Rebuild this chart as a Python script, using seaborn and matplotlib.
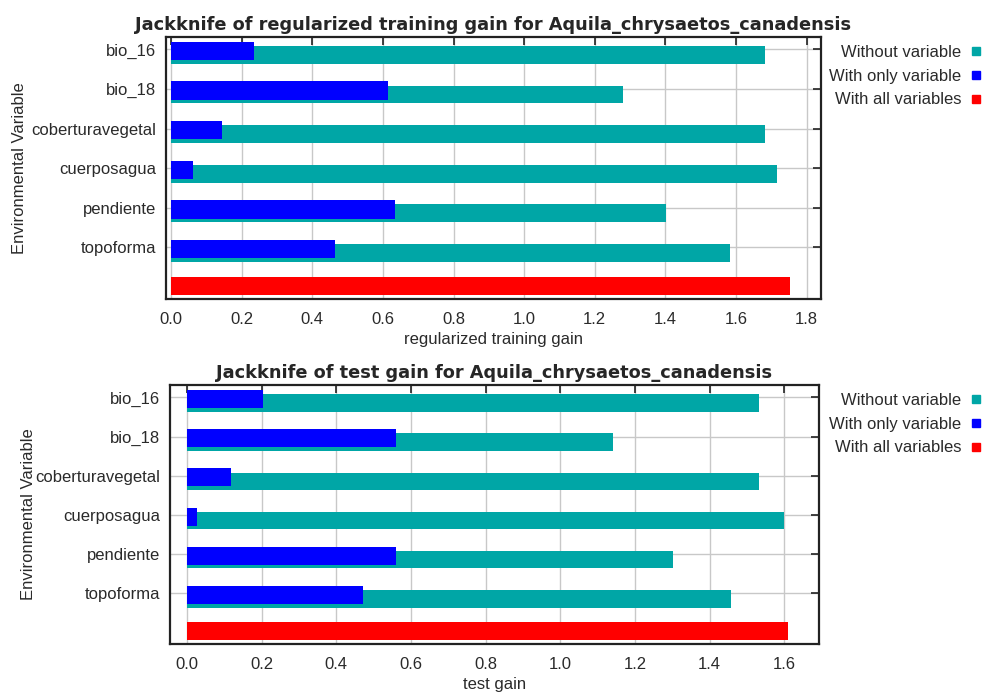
import numpy as np
import pandas as pd
import matplotlib
matplotlib.use("Agg")
import matplotlib.pyplot as plt
from matplotlib.lines import Line2D
from matplotlib.markers import TICKLEFT
import seaborn as sns

# data
variables = ["bio_16", "bio_18", "coberturavegetal", "cuerposagua", "pendiente", "topoforma"]
all_label = "With all variables"

train_without = [1.681, 1.279, 1.681, 1.717, 1.402, 1.584]
train_only = [0.236, 0.614, 0.144, 0.063, 0.635, 0.465]
train_all = 1.754

test_without = [1.531, 1.140, 1.531, 1.600, 1.302, 1.456]
test_only = [0.203, 0.560, 0.119, 0.028, 0.560, 0.473]
test_all = 1.611

TEAL = "#00A6A6"
BLUE = "#0000FF"
RED = "#FF0000"

sns.set_theme(style="white")
plt.rcParams["font.family"] = ["Liberation Sans", "DejaVu Sans"]


def shift_new(ax, start, dy):
    # move the bars drawn since `start` up/down a bit, like the MaxEnt layout
    for p in ax.patches[start:]:
        p.set_y(p.get_y() + dy)


def jackknife_panel(ax, without, only, all_val, title, xlabel, xlim, xticks):
    order = variables + [all_label]
    df = pd.DataFrame({"Variable": variables, "Without": without, "Only": only})
    df_all = pd.DataFrame({"Variable": [all_label], "All": [all_val]})

    bar_kw = dict(errorbar=None, saturation=1, linewidth=0, ax=ax)
    n = len(ax.patches)
    sns.barplot(data=df, x="Without", y="Variable", order=order, color=TEAL,
                width=0.45, **bar_kw)
    shift_new(ax, n, 0.14)
    n = len(ax.patches)
    sns.barplot(data=df, x="Only", y="Variable", order=order, color=BLUE,
                width=0.46, **bar_kw)
    shift_new(ax, n, 0.04)
    n = len(ax.patches)
    sns.barplot(data=df_all, x="All", y="Variable", order=order, color=RED,
                width=0.46, **bar_kw)
    shift_new(ax, n, -0.03)

    ax.set_xlim(*xlim)
    ax.set_ylim(6.3, -0.32)
    ax.set_xticks(xticks)
    ax.set_xticklabels([f"{t:.1f}" for t in xticks])
    ax.set_yticks(range(len(variables)))
    ax.set_yticklabels(variables)
    ax.set_axisbelow(True)
    ax.grid(True, color="#C8C8C8", linewidth=1)
    for s in ax.spines.values():
        s.set_visible(True)
        s.set_color("#222222")
        s.set_linewidth(1.6)
    ax.tick_params(axis="both", direction="in", length=6, width=1.2,
                   colors="#222222", labelsize=12, labelcolor="#2a2a2a",
                   top=True, right=True, pad=9)
    ax.tick_params(axis="y", direction="inout", length=8, pad=3)
    # right-hand ticks point inwards only
    for t in ax.yaxis.get_major_ticks():
        t.tick2line.set_marker(TICKLEFT)
        t.tick2line.set_markersize(6)
    ax.set_title(title, fontsize=12.8, fontweight="bold", pad=5,
                 family=["DejaVu Sans"])
    ax.set_xlabel(xlabel, fontsize=12, color="#2a2a2a", labelpad=4)
    ax.set_ylabel("Environmental Variable", fontsize=12, color="#2a2a2a")


fig = plt.figure(figsize=(9.84, 6.96), dpi=100)
ax1 = fig.add_axes([0.1684, 0.5704, 0.6657, 0.3769])
ax2 = fig.add_axes([0.1728, 0.0743, 0.6596, 0.3726])

jackknife_panel(ax1, train_without, train_only, train_all,
                "Jackknife of regularized training gain for Aquila_chrysaetos_canadensis",
                "regularized training gain", (-0.015, 1.84),
                [0.0, 0.2, 0.4, 0.6, 0.8, 1.0, 1.2, 1.4, 1.6, 1.8])
jackknife_panel(ax2, test_without, test_only, test_all,
                "Jackknife of test gain for Aquila_chrysaetos_canadensis",
                "test gain", (-0.045, 1.693),
                [0.0, 0.2, 0.4, 0.6, 0.8, 1.0, 1.2, 1.4, 1.6])
ax1.yaxis.set_label_coords(-0.212, 0.5)
ax2.yaxis.set_label_coords(-0.207, 0.5)

handles = [Line2D([], [], marker="s", linestyle="", color=c, markersize=6)
           for c in (TEAL, BLUE, RED)]
names = ["Without variable", "With only variable", "With all variables"]
for y in (1 - 45 / 696, 1 - 393 / 696):
    fig.legend(handles, names, loc="upper right", bbox_to_anchor=(0.999, y),
               frameon=False, markerfirst=False, fontsize=12,
               handlelength=0.8, handletextpad=0.5, labelspacing=0.52,
               borderpad=0, borderaxespad=0,
               labelcolor="#2a2a2a", alignment="right")

fig.savefig("out.png", dpi=100)
